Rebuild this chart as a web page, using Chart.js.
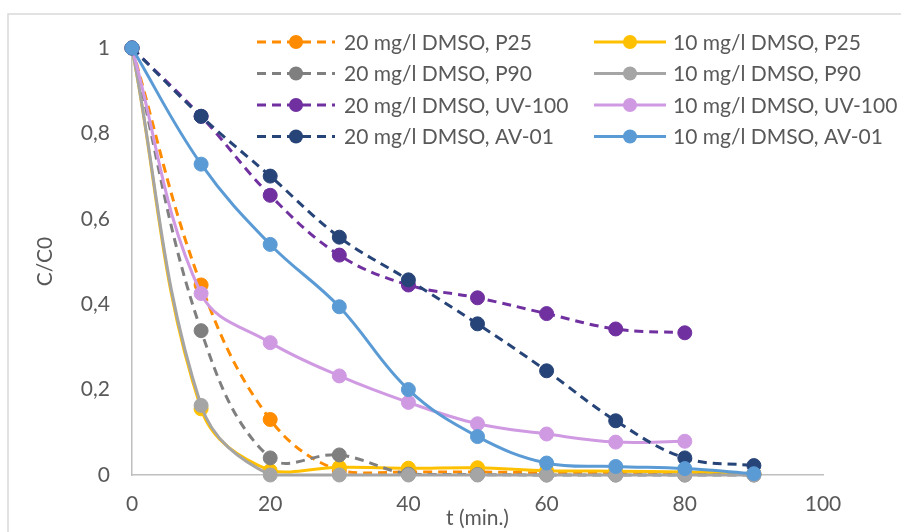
<!DOCTYPE html>
<html>
<head>
<meta charset="utf-8">
<script src="https://cdn.jsdelivr.net/npm/chart.js@4/dist/chart.umd.min.js"></script>
<style>
  html, body { margin: 0; padding: 0; background: #ffffff; }
  #wrap { width: 901px; height: 532px; position: relative; }
</style>
</head>
<body>
<div id="wrap"><canvas id="c" width="901" height="532"></canvas></div>
<script>
// Irradiation time (min)
const times = [0, 10, 20, 30, 40, 50, 60, 70, 80, 90];

// C/C0 for 20 mg/l DMSO
const p25_20 = [1, 0.445, 0.13, 0.01, 0.007, 0.007, 0.005, 0.005, 0.004, 0.003];
const p90_20 = [1, 0.338, 0.04, 0.047, 0.002, 0.001, 0, 0, 0, 0];
const uv100_20 = [1, 0.84, 0.655, 0.515, 0.445, 0.415, 0.378, 0.342, 0.333];
const av01_20 = [1, 0.84, 0.70, 0.557, 0.457, 0.354, 0.244, 0.127, 0.04, 0.022];

// C/C0 for 10 mg/l DMSO
const p25_10 = [1, 0.155, 0.01, 0.018, 0.016, 0.017, 0.01, 0.009, 0.007, 0.003];
const p90_10 = [1, 0.163, 0, 0, 0, 0, 0, 0, 0, 0];
const uv100_10 = [1, 0.425, 0.31, 0.232, 0.17, 0.12, 0.096, 0.077, 0.079];
const av01_10 = [1, 0.728, 0.54, 0.394, 0.2, 0.09, 0.028, 0.02, 0.015, 0.003];

const seriesLabels = [
  '20 mg/l DMSO, P25', '10 mg/l DMSO, P25',
  '20 mg/l DMSO, P90', '10 mg/l DMSO, P90',
  '20 mg/l DMSO, UV-100', '10 mg/l DMSO, UV-100',
  '20 mg/l DMSO, AV-01', '10 mg/l DMSO, AV-01'
];
const seriesValues = [p25_20, p25_10, p90_20, p90_10, uv100_20, uv100_10, av01_20, av01_10];
const seriesColors = ['#FF8C00', '#FFC000', '#7F7F7F', '#A5A5A5', '#7030A0', '#D09AE3', '#264478', '#5B9BD5'];
const seriesDashed = [true, false, true, false, true, false, true, false];

const xTicks = [0, 20, 40, 60, 80, 100];
const FONT = 'Lato, "Liberation Sans", sans-serif';
const TEXT = '#595959';
const DASH = [9, 6];

const datasets = seriesLabels.map((label, i) => ({
  label,
  data: seriesValues[i].map((v, k) => ({ x: times[k], y: v })),
  borderColor: seriesColors[i],
  backgroundColor: seriesColors[i],
  pointBackgroundColor: seriesColors[i],
  pointBorderColor: seriesColors[i],
  pointBorderWidth: 1,
  pointRadius: 7,
  pointHoverRadius: 7,
  borderWidth: 3,
  borderDash: seriesDashed[i] ? DASH : [],
  tension: 0.38,
  fill: false,
  clip: false,
  order: seriesLabels.length - i
}));

// Chart frame (light border around the plot)
const framePlugin = {
  id: 'frame',
  beforeDraw(chart) {
    const ctx = chart.ctx;
    ctx.save();
    ctx.fillStyle = '#ffffff';
    ctx.fillRect(0, 0, chart.width, chart.height);
    ctx.strokeStyle = '#D9D9D9';
    ctx.lineWidth = 1.5;
    ctx.beginPath();
    ctx.moveTo(8, chart.height + 2);
    ctx.lineTo(8, 14);
    ctx.lineTo(chart.width + 2, 14);
    ctx.stroke();
    ctx.restore();
  }
};

// Two-column legend in the upper right of the plot
const legendPlugin = {
  id: 'twoColLegend',
  afterDatasetsDraw(chart) {
    const ctx = chart.ctx;
    const cols = [
      { x0: 257, x1: 335, text: 344 },
      { x0: 594, x1: 666, text: 673 }
    ];
    const rowY = [42, 73.5, 105, 136.5];
    ctx.save();
    chart.data.datasets.forEach((ds, i) => {
      const c = cols[i % 2];
      const y = rowY[Math.floor(i / 2)];
      ctx.strokeStyle = ds.borderColor;
      ctx.lineWidth = ds.borderWidth;
      ctx.setLineDash(ds.borderDash || []);
      ctx.beginPath();
      ctx.moveTo(c.x0, y);
      ctx.lineTo(c.x1, y);
      ctx.stroke();
      ctx.setLineDash([]);
      ctx.fillStyle = ds.pointBackgroundColor;
      ctx.beginPath();
      ctx.arc((c.x0 + c.x1) / 2, y, 7, 0, Math.PI * 2);
      ctx.fill();
      ctx.fillStyle = TEXT;
      ctx.font = '21px ' + FONT;
      ctx.textBaseline = 'middle';
      ctx.textAlign = 'left';
      ctx.fillText(ds.label, c.text, y + 1);
    });
    ctx.restore();
  }
};

new Chart(document.getElementById('c'), {
  type: 'line',
  data: { datasets },
  options: {
    responsive: false,
    animation: false,
    devicePixelRatio: 1,
    events: [],
    layout: { padding: { top: 48, right: 78, bottom: 0, left: 0 } },
    plugins: { legend: { display: false }, tooltip: { enabled: false } },
    scales: {
      x: {
        type: 'linear',
        min: 0,
        max: 100,
        afterFit(s) { s.height = 57; },
        afterBuildTicks(s) { s.ticks = xTicks.map(v => ({ value: v })); },
        grid: { display: false, drawTicks: false },
        border: { display: true, color: '#BFBFBF', width: 1.5 },
        ticks: { padding: 17, color: TEXT, font: { family: FONT, size: 21, lineHeight: 1.2 } },
        title: { display: true, text: 't (min.)', color: TEXT, padding: { top: 0, bottom: 1.4 },
                 font: { family: FONT, size: 21, lineHeight: 1.2 } }
      },
      y: {
        min: 0,
        max: 1,
        afterFit(s) { s.width = 132; },
        grid: { display: false, drawTicks: false },
        border: { display: true, color: '#BFBFBF', width: 1.5 },
        ticks: {
          stepSize: 0.2,
          padding: 22,
          color: TEXT,
          font: { family: FONT, size: 21, lineHeight: 1.2 },
          callback: v => String(Math.round(v * 10) / 10).replace('.', ',')
        },
        title: { display: true, text: 'C/C0', color: TEXT, padding: { top: 32.4, bottom: 0 },
                 font: { family: FONT, size: 21, lineHeight: 1.2 } }
      }
    }
  },
  plugins: [framePlugin, legendPlugin]
});
</script>
</body>
</html>
